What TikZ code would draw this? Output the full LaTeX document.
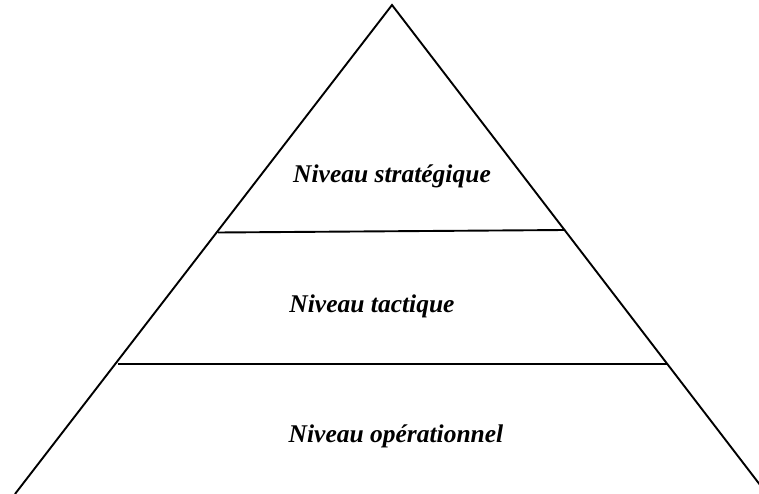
\documentclass[tikz,border=0pt]{standalone}
\usepackage{fontspec}
\setmainfont{Liberation Serif}
\usepackage{tikz}

\begin{document}
\begin{tikzpicture}[x=1pt,y=1pt,yscale=-1,xscale=1,
  level/.style={anchor=base,inner sep=0.75pt,font=\fontsize{25.5}{30}\selectfont\bfseries\itshape},
  edge/.style={line width=1.9pt,line join=miter}]
%set diagram size 759 x 494
\useasboundingbox (0,0) rectangle (759,494);
\clip (0,0) rectangle (759,494);

%Corners of the pyramid
\coordinate (apex) at (392,5);
\coordinate (baseL) at (15,494);
\coordinate (baseR) at (767,494);
%Ends of the dividing lines
\coordinate (topL) at (218,232.5);
\coordinate (topR) at (565,230);
\coordinate (midL) at (117.5,364);
\coordinate (midR) at (668,364);

%Shape: Triangle
\draw [edge] (baseL) -- (apex) -- (baseR) ;
%Straight Lines
\draw [edge] (topL) -- (topR) ;
%Straight Lines
\draw [edge] (midL) -- (midR) ;

% Text Node
\node [level] (strat) at (392,183) {Niveau stratégique};
% Text Node
\node [level] (tact) at (372,312) {Niveau tactique};
% Text Node
\node [level] (oper) at (396,442) {Niveau opérationnel};

\end{tikzpicture}
\end{document}
